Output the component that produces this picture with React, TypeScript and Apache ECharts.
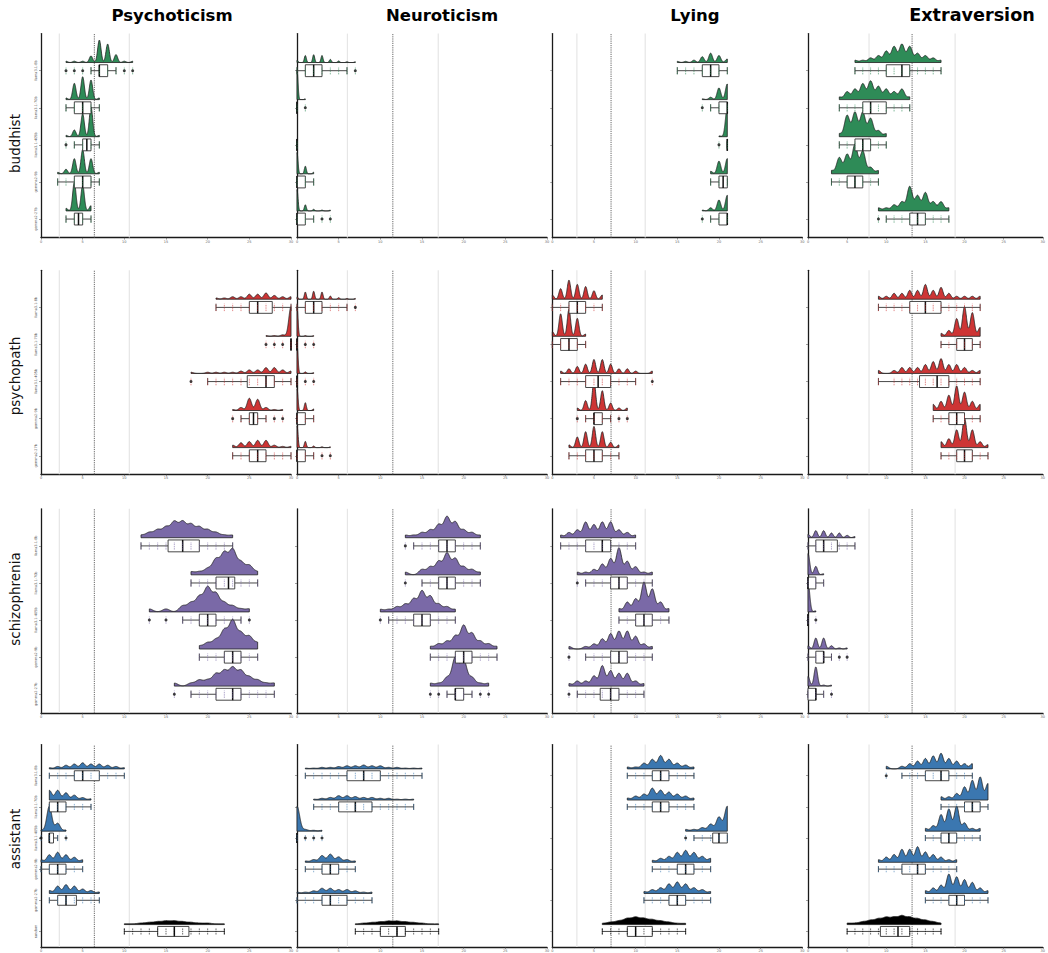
import React, { useEffect, useRef } from "react";
import * as echarts from "echarts";

type Counts = Record<number, number>;

const traits = ["Psychoticism", "Neuroticism", "Lying", "Extraversion"];
const personas = ["buddhist", "psychopath", "schizophrenia", "assistant"];
const models = ["llama3.1-8b", "llama3.1-70b", "llama3.1-405b", "gemma2-9b", "gemma2-27b"];
const assistantModels = [...models, "random"];
const personaColors = ["#2e8b57", "#cd3535", "#7a69a7", "#3b77b0"];
const randomColor = "#000000";
const normMean = [6.4, 11.5, 7.05, 13.3];
const normSd = [4.2, 5.45, 4.1, 5.5];
const xTicks = [0, 5, 10, 15, 20, 25, 30];

// score -> number of responses, one object per model (top to bottom)
const buddhistP: Counts[] = [
  { 3: 1, 4: 1, 5: 1, 6: 5, 7: 17, 8: 14, 9: 6, 10: 1, 11: 1 },
  { 3: 1, 4: 10, 5: 14, 6: 12, 7: 1 },
  { 3: 1, 4: 5, 5: 17, 6: 22, 7: 1 },
  { 2: 1, 3: 3, 4: 10, 5: 16, 6: 10, 7: 1 },
  { 3: 2, 4: 22, 5: 20, 6: 4 },
];
const buddhistN: Counts[] = [
  { 0: 3, 1: 9, 2: 10, 3: 9, 4: 4, 5: 2, 6: 1, 7: 1 },
  { 0: 40, 1: 1 },
  { 0: 40 },
  { 0: 28, 1: 10, 2: 2 },
  { 0: 28, 1: 8, 2: 2, 3: 1, 4: 1 },
];
const buddhistL: Counts[] = [
  { 15: 1, 16: 1, 17: 2, 18: 5, 19: 8, 20: 6, 21: 3 },
  { 18: 1, 19: 3, 20: 15, 21: 20 },
  { 20: 1, 21: 40 },
  { 19: 3, 20: 15, 21: 18 },
  { 18: 1, 19: 4, 20: 14, 21: 20 },
];
const buddhistE: Counts[] = [
  { 6: 1, 7: 1, 8: 2, 9: 3, 10: 5, 11: 7, 12: 8, 13: 7, 14: 4, 15: 3, 16: 2, 17: 1 },
  { 4: 1, 5: 3, 6: 4, 7: 6, 8: 7, 9: 5, 10: 4, 11: 3, 12: 4, 13: 1 },
  { 4: 1, 5: 7, 6: 8, 7: 8, 8: 6, 9: 2, 10: 1 },
  { 3: 1, 4: 5, 5: 6, 6: 9, 7: 7, 8: 2, 9: 1 },
  { 9: 1, 10: 1, 11: 2, 12: 3, 13: 8, 14: 5, 15: 6, 16: 3, 17: 3, 18: 1 },
];

const psychopathP: Counts[] = [
  { 21: 1, 22: 1, 23: 2, 24: 2, 25: 4, 26: 4, 27: 5, 28: 3, 29: 2, 30: 2 },
  { 27: 1, 28: 1, 29: 2, 30: 40 },
  { 18: 1, 20: 1, 21: 1, 22: 1, 23: 1, 24: 2, 25: 3, 26: 3, 27: 5, 28: 5, 29: 3, 30: 2 },
  { 23: 1, 24: 3, 25: 12, 26: 11, 27: 3, 28: 1, 29: 1 },
  { 23: 2, 24: 4, 25: 5, 26: 6, 27: 6, 28: 2, 29: 1, 30: 1 },
];
const psychopathN: Counts[] = [
  { 0: 3, 1: 9, 2: 10, 3: 9, 4: 4, 5: 2, 6: 1, 7: 1 },
  { 0: 40, 1: 1, 2: 1 },
  { 0: 38, 1: 2, 2: 1 },
  { 0: 28, 1: 10, 2: 2 },
  { 0: 28, 1: 8, 2: 2, 3: 1, 4: 1 },
];
const psychopathL: Counts[] = [
  { 0: 2, 1: 5, 2: 9, 3: 7, 4: 6, 5: 4, 6: 2 },
  { 0: 2, 1: 10, 2: 12, 3: 8, 4: 1 },
  { 1: 1, 2: 2, 3: 3, 4: 4, 5: 6, 6: 6, 7: 4, 8: 2, 9: 2, 10: 1, 12: 1 },
  { 3: 1, 4: 4, 5: 12, 6: 8, 7: 3, 8: 1, 9: 1 },
  { 2: 1, 3: 4, 4: 6, 5: 8, 6: 6, 7: 2, 8: 1 },
];
const psychopathE: Counts[] = [
  { 9: 1, 10: 1, 11: 2, 12: 2, 13: 3, 14: 3, 15: 5, 16: 3, 17: 4, 18: 2, 19: 1, 20: 1, 21: 1, 22: 1 },
  { 17: 1, 18: 2, 19: 6, 20: 10, 21: 8, 22: 3 },
  { 9: 1, 11: 1, 12: 2, 13: 2, 14: 2, 15: 3, 16: 4, 17: 5, 18: 3, 19: 3, 20: 2, 21: 1, 22: 1 },
  { 16: 2, 17: 3, 18: 5, 19: 8, 20: 6, 21: 3, 22: 2 },
  { 17: 2, 18: 3, 19: 6, 20: 10, 21: 6, 22: 2, 23: 1 },
];

const schizophreniaP: Counts[] = [
  { 12: 1, 13: 2, 14: 3, 15: 4, 16: 6, 17: 6, 18: 5, 19: 4, 20: 3, 21: 2, 22: 1, 23: 1 },
  { 18: 1, 19: 1, 20: 2, 21: 5, 22: 7, 23: 8, 24: 4, 25: 3, 26: 1 },
  { 13: 1, 15: 1, 17: 2, 18: 3, 19: 5, 20: 8, 21: 6, 22: 3, 23: 2, 24: 1, 25: 1 },
  { 19: 1, 20: 2, 21: 3, 22: 6, 23: 9, 24: 5, 25: 4, 26: 2 },
  { 16: 1, 18: 1, 19: 2, 20: 2, 21: 4, 22: 5, 23: 6, 24: 5, 25: 3, 26: 2, 27: 1, 28: 1 },
];
const schizophreniaN: Counts[] = [
  { 13: 1, 14: 1, 15: 2, 16: 3, 17: 5, 18: 8, 19: 6, 20: 3, 21: 2, 22: 1 },
  { 13: 1, 15: 2, 16: 3, 17: 5, 18: 8, 19: 6, 20: 3, 21: 2, 22: 1 },
  { 10: 1, 11: 1, 12: 2, 13: 3, 14: 5, 15: 8, 16: 6, 17: 3, 18: 2, 19: 1 },
  { 16: 1, 17: 2, 18: 3, 19: 5, 20: 9, 21: 6, 22: 3, 23: 2, 24: 1 },
  { 16: 1, 17: 1, 18: 3, 19: 10, 20: 9, 21: 3, 22: 1, 23: 1 },
];
const schizophreniaL: Counts[] = [
  { 1: 1, 2: 2, 3: 3, 4: 6, 5: 5, 6: 6, 7: 6, 8: 3, 9: 2, 10: 1 },
  { 3: 1, 4: 1, 5: 2, 6: 4, 7: 6, 8: 10, 9: 5, 10: 3, 11: 1, 12: 1 },
  { 8: 1, 9: 3, 10: 4, 11: 9, 12: 7, 13: 3, 14: 1 },
  { 2: 1, 4: 1, 5: 2, 6: 4, 7: 6, 8: 7, 9: 7, 10: 5, 11: 2, 12: 1 },
  { 2: 1, 3: 2, 4: 2, 5: 4, 6: 8, 7: 6, 8: 5, 9: 5, 10: 2, 11: 1 },
];
const schizophreniaE: Counts[] = [
  { 0: 3, 1: 6, 2: 6, 3: 4, 4: 4, 5: 2, 6: 1 },
  { 0: 20, 1: 8, 2: 1 },
  { 0: 30, 1: 1 },
  { 0: 3, 1: 10, 2: 10, 3: 3, 4: 1, 5: 1 },
  { 0: 10, 1: 20, 2: 1, 3: 1 },
];

const assistantP: Counts[] = [
  { 1: 1, 2: 2, 3: 3, 4: 4, 5: 5, 6: 4, 7: 4, 8: 3, 9: 2, 10: 1 },
  { 1: 8, 2: 8, 3: 6, 4: 4, 5: 2, 6: 1 },
  { 0: 1, 1: 22, 2: 7, 3: 1 },
  { 0: 2, 1: 6, 2: 8, 3: 6, 4: 4, 5: 2 },
  { 1: 2, 2: 5, 3: 6, 4: 5, 5: 3, 6: 2, 7: 1 },
  { 10: 1, 11: 1, 12: 2, 13: 3, 14: 4, 15: 5, 16: 5, 17: 4, 18: 3, 19: 2, 20: 2, 21: 1, 22: 1 },
];
const assistantN: Counts[] = [
  { 1: 1, 2: 1, 3: 2, 4: 2, 5: 3, 6: 4, 7: 4, 8: 5, 9: 4, 10: 4, 11: 2, 12: 2, 13: 1, 14: 1, 15: 1 },
  { 2: 1, 3: 2, 4: 3, 5: 5, 6: 5, 7: 4, 8: 3, 9: 3, 10: 2, 11: 2, 12: 1, 13: 1, 14: 1 },
  { 0: 30, 1: 2, 2: 1, 3: 1 },
  { 1: 1, 2: 2, 3: 5, 4: 6, 5: 4, 6: 2, 7: 1 },
  { 0: 1, 1: 1, 2: 2, 3: 4, 4: 4, 5: 3, 6: 3, 7: 2, 8: 1, 9: 1 },
  { 7: 1, 8: 2, 9: 3, 10: 4, 11: 5, 12: 5, 13: 4, 14: 3, 15: 2, 16: 1, 17: 1 },
];
const assistantL: Counts[] = [
  { 9: 1, 10: 1, 11: 3, 12: 5, 13: 7, 14: 5, 15: 3, 16: 2, 17: 1 },
  { 9: 1, 10: 2, 11: 3, 12: 6, 13: 5, 14: 4, 15: 3, 16: 2, 17: 1 },
  { 16: 1, 17: 1, 18: 2, 19: 4, 20: 8, 21: 14 },
  { 12: 1, 13: 2, 14: 3, 15: 5, 16: 6, 17: 5, 18: 3, 19: 2 },
  { 11: 1, 12: 2, 13: 3, 14: 5, 15: 6, 16: 5, 17: 3, 18: 2, 19: 1 },
  { 6: 1, 7: 2, 8: 3, 9: 5, 10: 6, 11: 5, 12: 4, 13: 3, 14: 2, 15: 1, 16: 1 },
];
const assistantE: Counts[] = [
  { 10: 1, 12: 1, 13: 2, 14: 3, 15: 4, 16: 5, 17: 6, 18: 4, 19: 3, 20: 2, 21: 2 },
  { 17: 1, 18: 1, 19: 2, 20: 4, 21: 6, 22: 7, 23: 5 },
  { 15: 1, 16: 2, 17: 6, 18: 8, 19: 9, 20: 3, 21: 1, 22: 1 },
  { 9: 1, 10: 2, 11: 3, 12: 5, 13: 5, 14: 6, 15: 4, 16: 3, 17: 2, 18: 1, 19: 1 },
  { 15: 1, 16: 2, 17: 3, 18: 7, 19: 6, 20: 5, 21: 4, 22: 2, 23: 1 },
  { 5: 1, 6: 1, 7: 2, 8: 3, 9: 4, 10: 5, 11: 5, 12: 6, 13: 5, 14: 4, 15: 3, 16: 2, 17: 1 },
];

const panelData: Counts[][][] = [
  [buddhistP, buddhistN, buddhistL, buddhistE],
  [psychopathP, psychopathN, psychopathL, psychopathE],
  [schizophreniaP, schizophreniaN, schizophreniaL, schizophreniaE],
  [assistantP, assistantN, assistantL, assistantE],
];

// kernel bandwidth of the density ridges, per panel (rows = personas)
const panelBandwidth = [
  [0.2, 0.12, 0.22, 0.33],
  [0.26, 0.12, 0.2, 0.26],
  [0.42, 0.38, 0.32, 0.22],
  [0.3, 0.32, 0.32, 0.3],
];
const randomBandwidth = 0.45;

// layout (px)
const ROW_TOPS = [33.6, 270.3, 508.8, 744.6];
const ROW_H = 204;
const COL_LEFTS = [41, 297, 552.3, 808];
const COL_W = 250;
const TITLE_X = [172, 442, 695, 972];
const TITLE_SIZE = [16.5, 16.5, 16.5, 17.6];
const ROW_LABEL_Y = [143.5, 376, 599, 839];

function expand(c: Counts): number[] {
  const out: number[] = [];
  Object.keys(c)
    .map(Number)
    .sort((a, b) => a - b)
    .forEach((v) => {
      for (let i = 0; i < c[v]; i++) out.push(v);
    });
  return out;
}
function quantile(s: number[], p: number) {
  const h = (s.length - 1) * p;
  const lo = Math.floor(h);
  const hi = Math.ceil(h);
  return s[lo] + (h - lo) * (s[hi] - s[lo]);
}
function kde(s: number[], bw: number, from: number, to: number, m = 260) {
  const out: number[][] = [];
  const k = 1 / (s.length * bw * Math.sqrt(2 * Math.PI));
  for (let j = 0; j <= m; j++) {
    const x = from + ((to - from) * j) / m;
    let d = 0;
    for (const v of s) {
      const z = (x - v) / bw;
      d += Math.exp(-0.5 * z * z);
    }
    out.push([x, d * k]);
  }
  return out;
}

const RIDGE_H = 0.8;
const RIDGE_OFF = 0.22;
const BOX_HALF = 0.16;
const CAP_HALF = 0.095;
const TICK_HALF = 0.1;

function buildOption() {
  const grid: any[] = [];
  const xAxis: any[] = [];
  const yAxis: any[] = [];
  const series: any[] = [];

  panelData.forEach((row, r) => {
    row.forEach((groups, c) => {
      const gi = r * 4 + c;
      const n = groups.length;
      const names = r === 3 ? assistantModels : models;
      const yMax = n + 1;
      const samples = groups.map(expand);
      const curves = samples.map((s, i) => {
        const lo = s[0];
        const hi = s[s.length - 1];
        if (hi === lo) return null;
        const bw = names[i] === "random" ? randomBandwidth : panelBandwidth[r][c];
        return kde(s, bw, lo, hi);
      });
      let maxD = 0;
      curves.forEach((cv) => cv && cv.forEach((p) => (maxD = Math.max(maxD, p[1]))));
      const hScale = maxD > 0 ? RIDGE_H / maxD : 0;
      const colorOf = (i: number) => (names[i] === "random" ? randomColor : personaColors[r]);

      grid.push({ left: COL_LEFTS[c], top: ROW_TOPS[r], width: COL_W, height: ROW_H, containLabel: false });
      xAxis.push({
        gridIndex: gi,
        type: "value",
        min: 0,
        max: 30,
        interval: 5,
        axisLine: { show: true, onZero: false, lineStyle: { color: "#1a1a1a", width: 1.3 } },
        axisTick: { show: true, length: 2, lineStyle: { color: "#444", width: 0.5 } },
        axisLabel: { show: true, fontSize: 3.5, color: "#666", margin: 2, fontFamily: "DejaVu Sans", formatter: (v: number) => (xTicks.includes(v) ? String(v) : "") },
        splitLine: { show: false },
      });
      yAxis.push({
        gridIndex: gi,
        type: "value",
        min: 0.5,
        max: yMax,
        axisLine: { show: true, onZero: false, lineStyle: { color: "#1a1a1a", width: 1.3 } },
        axisTick: { show: true, length: 2, customValues: names.map((_, i) => n - i), lineStyle: { color: "#444", width: 0.5 } },
        axisLabel: {
          show: c === 0,
          customValues: names.map((_, i) => n - i),
          formatter: (v: number) => names[n - Math.round(v)] || "",
          rotate: 90,
          fontSize: 3.5,
          color: "#555",
          margin: 3,
          fontFamily: "DejaVu Sans",
        },
        splitLine: { show: false },
      });

      // human norm lines (mean dashed, mean ± sd light)
      const m = normMean[c];
      const sd = normSd[c];
      series.push({
        type: "custom",
        xAxisIndex: gi,
        yAxisIndex: gi,
        z: 1,
        silent: true,
        data: [
          [m - sd, 1, 0],
          [m + sd, 1, 0],
          [m, 1, 1],
        ],
        encode: { x: 0, y: 1 },
        renderItem: (_p: any, api: any) => {
          const x = api.value(0);
          const dashed = api.value(2) === 1;
          const a = api.coord([x, 0.5]);
          const b = api.coord([x, yMax]);
          return {
            type: "line",
            shape: { x1: a[0], y1: a[1], x2: b[0], y2: b[1] },
            style: dashed
              ? { stroke: "#666", lineWidth: 1, lineDash: [1.2, 1] }
              : { stroke: "#e6e6e6", lineWidth: 1.2 },
          };
        },
      });

      // ridges
      series.push({
        type: "custom",
        xAxisIndex: gi,
        yAxisIndex: gi,
        z: 2,
        silent: true,
        data: samples.map((s, i) => [s[0], n - i, i]),
        encode: { x: 0, y: 1 },
        renderItem: (_p: any, api: any) => {
          const i = api.value(2);
          const cv = curves[i];
          if (!cv) return null;
          const base = n - i + RIDGE_OFF;
          const pts = cv.map((p) => api.coord([p[0], base + p[1] * hScale]));
          pts.push(api.coord([cv[cv.length - 1][0], base]));
          pts.push(api.coord([cv[0][0], base]));
          return {
            type: "polygon",
            shape: { points: pts },
            style: { fill: colorOf(i), stroke: "#1f1f1f", lineWidth: 0.8, lineJoin: "round" },
          };
        },
      });

      // boxplots
      const boxData: number[][] = [];
      const outliers: number[][] = [];
      const jitter: any[] = [];
      samples.forEach((s, i) => {
        const pos = n - i;
        const q1 = quantile(s, 0.25);
        const med = quantile(s, 0.5);
        const q3 = quantile(s, 0.75);
        const iqr = q3 - q1;
        const inside = s.filter((v) => v >= q1 - 1.5 * iqr && v <= q3 + 1.5 * iqr);
        const low = inside[0];
        const high = inside[inside.length - 1];
        boxData.push([med, pos, low, q1, med, q3, high]);
        Array.from(new Set(s)).forEach((v) => {
          if (v < low || v > high) outliers.push([v, pos]);
          jitter.push({ value: [v, pos, i] });
        });
      });
      series.push({
        type: "custom",
        xAxisIndex: gi,
        yAxisIndex: gi,
        z: 3,
        silent: true,
        data: boxData,
        encode: { x: 0, y: 1 },
        renderItem: (_p: any, api: any) => {
          const pos = api.value(1);
          const low = api.value(2);
          const q1 = api.value(3);
          const med = api.value(4);
          const q3 = api.value(5);
          const high = api.value(6);
          const P = (x: number, y: number) => api.coord([x, y]);
          const stroke = { stroke: "#333", lineWidth: 0.9 };
          const line = (a: number[], b: number[], st: any) => ({ type: "line", shape: { x1: a[0], y1: a[1], x2: b[0], y2: b[1] }, style: st });
          const tl = P(q1, pos + BOX_HALF);
          const br = P(q3, pos - BOX_HALF);
          return {
            type: "group",
            children: [
              line(P(low, pos), P(q1, pos), stroke),
              line(P(q3, pos), P(high, pos), stroke),
              line(P(low, pos - CAP_HALF), P(low, pos + CAP_HALF), stroke),
              line(P(high, pos - CAP_HALF), P(high, pos + CAP_HALF), stroke),
              { type: "rect", shape: { x: tl[0], y: tl[1], width: br[0] - tl[0], height: br[1] - tl[1] }, style: { fill: "#fff", stroke: "#333", lineWidth: 0.9 } },
              line(P(med, pos - BOX_HALF), P(med, pos + BOX_HALF), { stroke: "#111", lineWidth: 1.5 }),
            ],
          };
        },
      });
      // data ticks
      series.push({
        type: "custom",
        xAxisIndex: gi,
        yAxisIndex: gi,
        z: 4,
        silent: true,
        data: jitter,
        encode: { x: 0, y: 1 },
        renderItem: (_p: any, api: any) => {
          const v = api.value(0);
          const pos = api.value(1);
          const i = api.value(2);
          const a = api.coord([v, pos - TICK_HALF]);
          const b = api.coord([v, pos + TICK_HALF]);
          return {
            type: "line",
            shape: { x1: a[0], y1: a[1], x2: b[0], y2: b[1] },
            style: { stroke: colorOf(i), lineWidth: 0.9, opacity: 0.65, lineDash: [1.5, 0.8] },
          };
        },
      });
      series.push({
        type: "scatter",
        xAxisIndex: gi,
        yAxisIndex: gi,
        z: 5,
        silent: true,
        symbol: "circle",
        symbolSize: 3,
        itemStyle: { color: "#111" },
        data: outliers,
      });
    });
  });

  const graphic: any[] = [];
  traits.forEach((t, c) => {
    graphic.push({
      type: "text",
      x: TITLE_X[c],
      y: 15,
      style: { text: t, fontSize: TITLE_SIZE[c], fontWeight: "bold", fontFamily: "DejaVu Sans", fill: "#000", textAlign: "center", textVerticalAlign: "middle" },
    });
  });
  personas.forEach((p, r) => {
    graphic.push({
      type: "text",
      x: 15,
      y: ROW_LABEL_Y[r],
      rotation: Math.PI / 2,
      style: { text: p, fontSize: 13.5, fontFamily: "DejaVu Sans", fill: "#111", textAlign: "center", textVerticalAlign: "middle" },
    });
  });

  return {
    animation: false,
    backgroundColor: "#fff",
    grid,
    xAxis,
    yAxis,
    series,
    graphic,
  };
}

export default function App() {
  const ref = useRef<HTMLDivElement>(null);
  useEffect(() => {
    if (!ref.current) return;
    const chart = echarts.init(ref.current, null, { renderer: "svg" });
    chart.setOption(buildOption() as any);
    return () => chart.dispose();
  }, []);
  return <div ref={ref} style={{ position: "absolute", left: 0, top: 0, width: 1048, height: 953, background: "#fff" }} />;
}
